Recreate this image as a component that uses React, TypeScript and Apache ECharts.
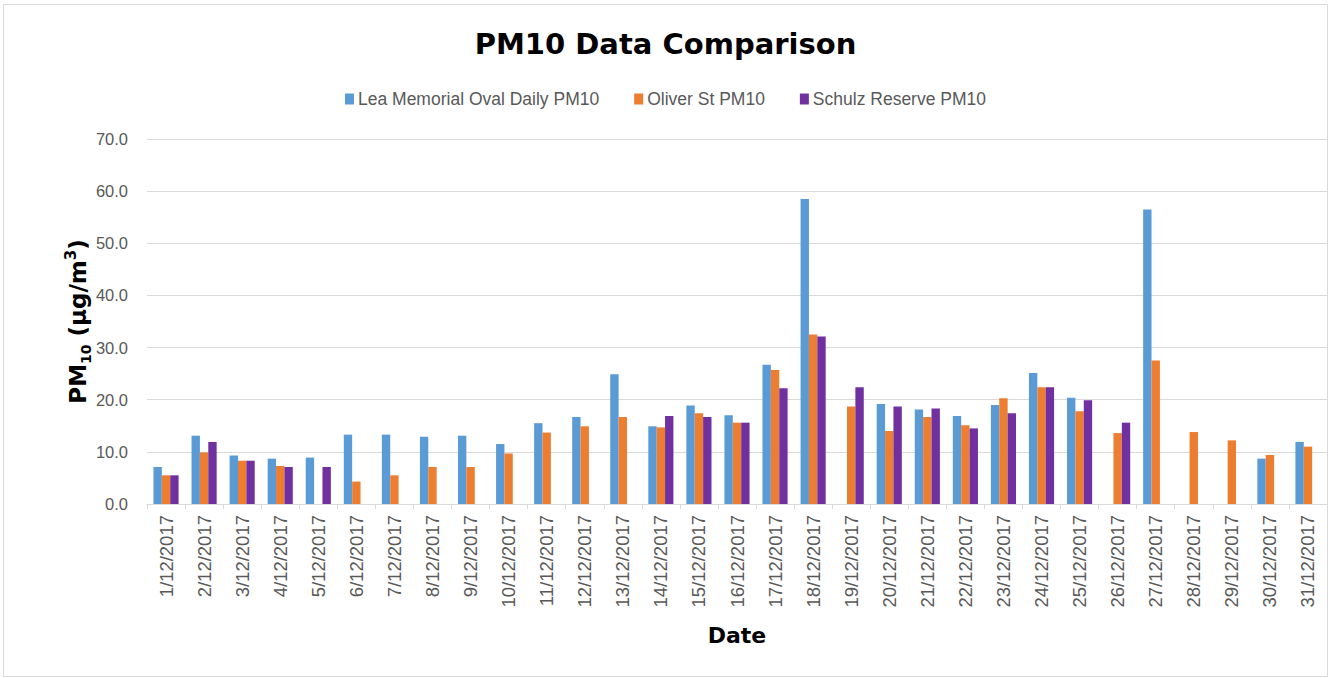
import React, { useEffect, useRef } from "react";
import * as echarts from "echarts";

const categories = [
  "1/12/2017", "2/12/2017", "3/12/2017", "4/12/2017", "5/12/2017", "6/12/2017", "7/12/2017", "8/12/2017",
  "9/12/2017", "10/12/2017", "11/12/2017", "12/12/2017", "13/12/2017", "14/12/2017", "15/12/2017", "16/12/2017",
  "17/12/2017", "18/12/2017", "19/12/2017", "20/12/2017", "21/12/2017", "22/12/2017", "23/12/2017", "24/12/2017",
  "25/12/2017", "26/12/2017", "27/12/2017", "28/12/2017", "29/12/2017", "30/12/2017", "31/12/2017",
];

const leaMemorial = [
  7.1, 13.1, 9.3, 8.7, 8.9, 13.3, 13.3, 12.9, 13.1, 11.5, 15.5, 16.7, 24.9, 14.9, 18.9, 17.0,
  26.7, 58.5, null, 19.2, 18.1, 16.9, 19.0, 25.1, 20.4, null, 56.5, null, null, 8.7, 11.9,
];
const oliverSt = [
  5.5, 9.9, 8.3, 7.3, null, 4.3, 5.5, 7.1, 7.1, 9.7, 13.7, 14.9, 16.7, 14.7, 17.4, 15.6,
  25.7, 32.5, 18.7, 14.0, 16.7, 15.1, 20.3, 22.4, 17.8, 13.6, 27.5, 13.8, 12.2, 9.4, 11.0,
];
const schulzReserve = [
  5.5, 11.9, 8.3, 7.1, 7.1, null, null, null, null, null, null, null, null, 16.9, 16.7, 15.6,
  22.2, 32.1, 22.4, 18.7, 18.3, 14.5, 17.4, 22.4, 19.9, 15.6, null, null, null, null, null,
];

const seriesNames = ["Lea Memorial Oval Daily PM10", "Oliver St PM10", "Schulz Reserve PM10"];
const colors = ["#5B9BD5", "#ED7D31", "#7030A0"];

export default function App() {
  const ref = useRef<HTMLDivElement>(null);
  useEffect(() => {
    if (!ref.current) return;
    const chart = echarts.init(ref.current, null, { renderer: "svg" });
    const dataSets = [leaMemorial, oliverSt, schulzReserve];
    chart.setOption({
      animation: false,
      backgroundColor: "#ffffff",
      title: {
        text: "PM10 Data Comparison",
        left: "center",
        top: 24,
        textStyle: { fontFamily: "DejaVu Sans", fontWeight: "bold", fontSize: 29, color: "#000000" },
      },
      legend: {
        top: 85,
        left: "center",
        itemWidth: 9,
        itemHeight: 11,
        itemGap: 35,
        icon: "rect",
        textStyle: { fontFamily: "Liberation Sans", fontSize: 17.5, color: "#595959", padding: [0, 0, 0, -1] },
        data: seriesNames,
      },
      grid: { left: 147, right: 4, top: 139, bottom: 174, containLabel: false },
      xAxis: {
        type: "category",
        data: categories,
        name: "Date",
        nameLocation: "middle",
        nameGap: 120,
        nameTextStyle: { fontFamily: "DejaVu Sans", fontWeight: "bold", fontSize: 22, color: "#000000" },
        axisLine: { show: true, lineStyle: { color: "#d9d9d9", width: 1 } },
        axisTick: { show: true, length: 5, lineStyle: { color: "#d9d9d9" } },
        axisLabel: {
          rotate: 90,
          margin: 11,
          interval: 0,
          fontFamily: "Liberation Sans",
          fontSize: 18.5,
          color: "#595959",
        },
      },
      yAxis: {
        type: "value",
        min: 0,
        max: 70,
        interval: 10,
        name: "{a|PM}{sub|10}{a| (µg/m}{sup|3}{a|)}",
        nameLocation: "middle",
        nameRotate: 90,
        nameGap: 52,
        nameMoveOverlap: false,
        nameTextStyle: {
          rich: {
            a: { fontFamily: "DejaVu Sans", fontWeight: "bold", fontSize: 23, color: "#000000", lineHeight: 34, verticalAlign: "middle" },
            sub: { fontFamily: "DejaVu Sans", fontWeight: "bold", fontSize: 14, color: "#000000", lineHeight: 34, verticalAlign: "bottom", padding: [0, 0, 2, 0] },
            sup: { fontFamily: "DejaVu Sans", fontWeight: "bold", fontSize: 15, color: "#000000", lineHeight: 34, verticalAlign: "top", padding: [2, 0, 0, 0] },
          },
        },
        axisLine: { show: false },
        axisTick: { show: false },
        splitLine: { show: true, lineStyle: { color: "#d9d9d9", width: 1 } },
        axisLabel: {
          margin: 19,
          fontFamily: "Liberation Sans",
          fontSize: 16.5,
          color: "#595959",
          formatter: (v: number) => v.toFixed(1),
        },
      },
      graphic: [
        {
          type: "rect",
          shape: { x: 3.5, y: 4.5, width: 1324, height: 672 },
          style: { fill: "none", stroke: "#d9d9d9", lineWidth: 1 },
          silent: true,
          z: -1,
        },
      ],
      series: seriesNames.map((name, i) => ({
        name,
        type: "bar",
        data: dataSets[i],
        barGap: "0%",
        barCategoryGap: "34%",
        itemStyle: { color: colors[i] },
      })),
    });
    return () => chart.dispose();
  }, []);
  return (
    <div
      ref={ref}
      style={{ position: "fixed", left: 0, top: 0, width: 1331, height: 678 }}
    />
  );
}
